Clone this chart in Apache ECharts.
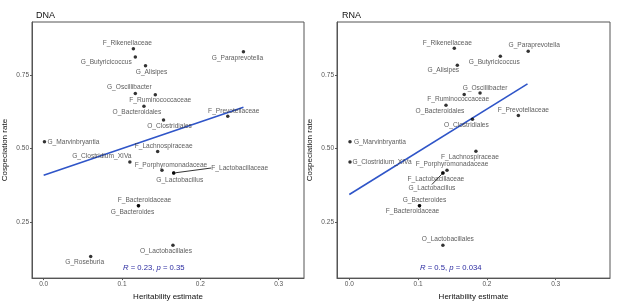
<!DOCTYPE html>
<html>
<head>
<meta charset="utf-8">
<script src="https://cdn.jsdelivr.net/npm/echarts@6/dist/echarts.min.js"></script>
<style>
  html, body { margin: 0; padding: 0; background: #fff; }
  #chart { width: 617px; height: 306px; }
</style>
</head>
<body>
<div id="chart"></div>
<script>
// DNA panel
const dnaNames = ['F_Rikenellaceae', 'G_Butyricicoccus', 'G_Alisipes', 'G_Paraprevotella', 'G_Oscillibacter',
  'F_Ruminococcaceae', 'O_Bacteroidales', 'O_Clostridiales', 'F_Prevotellaceae', 'G_Marvinbryantia',
  'F_Lachnospiraceae', 'G_Clostridium_XIVa', 'F_Porphyromonadaceae', 'F_Lactobacillaceae', 'G_Lactobacillus',
  'F_Bacteroidaceae', 'G_Bacteroides', 'O_Lactobacillales', 'G_Roseburia'];
const dnaHerit = [0.1145, 0.117, 0.130, 0.255, 0.117, 0.1425, 0.128, 0.153, 0.235, 0.001,
  0.1455, 0.110, 0.151, 0.166, 0.166, 0.121, 0.121, 0.165, 0.060];
const dnaCosp = [0.839, 0.811, 0.781, 0.829, 0.687, 0.683, 0.644, 0.597, 0.610, 0.523,
  0.490, 0.454, 0.426, 0.417, 0.417, 0.306, 0.306, 0.172, 0.133];
const dnaFitX = [0, 0.255];
const dnaFitY = [0.409, 0.640];
const dnaStat = '{i|R} = 0.23, {i|p} = 0.35';

// RNA panel
const rnaNames = ['F_Rikenellaceae', 'G_Paraprevotella', 'G_Butyricicoccus', 'G_Alisipes', 'G_Oscillibacter',
  'F_Ruminococcaceae', 'O_Bacteroidales', 'F_Prevotellaceae', 'O_Clostridiales', 'G_Marvinbryantia',
  'F_Lachnospiraceae', 'G_Clostridium_XIVa', 'F_Porphyromonadaceae', 'F_Lactobacillaceae', 'G_Lactobacillus',
  'F_Bacteroidaceae', 'G_Bacteroides', 'O_Lactobacillales'];
const rnaHerit = [0.1526, 0.260, 0.2195, 0.157, 0.190, 0.167, 0.1405, 0.2457, 0.179, 0.001,
  0.184, 0.001, 0.142, 0.136, 0.136, 0.102, 0.102, 0.136];
const rnaCosp = [0.841, 0.831, 0.814, 0.783, 0.689, 0.684, 0.647, 0.612, 0.600, 0.523,
  0.491, 0.454, 0.426, 0.417, 0.417, 0.306, 0.306, 0.172];
const rnaFitX = [0, 0.259];
const rnaFitY = [0.344, 0.720];
const rnaStat = '{i|R} = 0.5, {i|p} = 0.034';

const xTicks = [0, 0.1, 0.2, 0.3];
const yTicks = [0.25, 0.5, 0.75];

// label placement (pixel offsets from the point, like ggrepel put them)
const dnaLabelPos = {
  F_Rikenellaceae: [-6, -6], G_Butyricicoccus: [-29, 5], G_Alisipes: [6, 6], G_Paraprevotella: [-6, 6],
  G_Oscillibacter: [-6, -6], F_Ruminococcaceae: [5, 5], O_Bacteroidales: [-7, 6], O_Clostridiales: [6, 6],
  F_Prevotellaceae: [6, -5], G_Marvinbryantia: [29, 0], F_Lachnospiraceae: [6, -5], G_Clostridium_XIVa: [-28, -6],
  F_Porphyromonadaceae: [9, -5], F_Lactobacillaceae: [66, -5], G_Lactobacillus: [6, 7],
  F_Bacteroidaceae: [6, -6], G_Bacteroides: [-6, 6], O_Lactobacillales: [-7, 6], G_Roseburia: [-6, 6]
};
const rnaLabelPos = {
  F_Rikenellaceae: [-7, -5], G_Paraprevotella: [6, -6], G_Butyricicoccus: [-6, 6], G_Alisipes: [-14, 5],
  G_Oscillibacter: [5, -5], F_Ruminococcaceae: [-6, 5], O_Bacteroidales: [-6, 6], F_Prevotellaceae: [5, -5],
  O_Clostridiales: [-6, 6], G_Marvinbryantia: [30, 0], F_Lachnospiraceae: [-6, 6], G_Clostridium_XIVa: [32, 0],
  F_Porphyromonadaceae: [5, -6], F_Lactobacillaceae: [-7, 6], G_Lactobacillus: [-11, 15],
  F_Bacteroidaceae: [-7, 5], G_Bacteroides: [5, -6], O_Lactobacillales: [5, -6]
};
const dnaLeader = ['F_Lactobacillaceae'];
const rnaLeader = ['G_Lactobacillus'];

const textFont = 'Liberation Sans';
const labelColor = '#333';
const tickColor = '#555';
const fitColor = '#2f55c8';
const statColor = '#2b2ba0';

const chart = echarts.init(document.getElementById('chart'), null, { renderer: 'canvas' });

const makePoints = (names, xs, ys, leaders) => names.map((n, i) => ({
  name: n,
  value: [xs[i], ys[i]],
  labelLine: { show: leaders.includes(n), lineStyle: { color: '#000', width: 0.8 } }
}));

const makeXAxis = (gridIndex, min, max) => ({
  type: 'value',
  gridIndex,
  min, max,
  name: 'Heritability estimate',
  nameLocation: 'middle',
  nameGap: 14,
  nameTextStyle: { fontFamily: textFont, fontSize: 8, color: '#111' },
  splitLine: { show: false },
  axisLine: { show: true, onZero: false, lineStyle: { color: '#555', width: 1 } },
  axisTick: { show: true, length: 2, customValues: xTicks, lineStyle: { color: '#555' } },
  axisLabel: {
    customValues: xTicks, margin: 3, fontFamily: textFont, fontSize: 6.5, color: tickColor,
    formatter: v => v.toFixed(1)
  }
});

const makeYAxis = (gridIndex) => ({
  type: 'value',
  gridIndex,
  min: 0.06, max: 0.93,
  name: 'Cospeciation rate',
  nameLocation: 'middle',
  nameRotate: 90,
  nameGap: 23,
  nameTextStyle: { fontFamily: textFont, fontSize: 8, color: '#111' },
  splitLine: { show: false },
  axisLine: { show: true, onZero: false, lineStyle: { color: '#555', width: 1 } },
  axisTick: { show: true, length: 2, customValues: yTicks, lineStyle: { color: '#555' } },
  axisLabel: {
    customValues: yTicks, margin: 3, fontFamily: textFont, fontSize: 6.5, color: tickColor,
    formatter: v => v.toFixed(2)
  }
});

const makeScatter = (idx, names, xs, ys, leaders, pos) => ({
  type: 'scatter',
  xAxisIndex: idx, yAxisIndex: idx,
  symbolSize: 3.5,
  itemStyle: { color: '#000' },
  data: makePoints(names, xs, ys, leaders),
  label: {
    show: true, position: 'inside', formatter: '{b}',
    fontFamily: textFont, fontSize: 6.6, color: labelColor
  },
  labelLayout: p => {
    const o = pos[names[p.dataIndex]];
    return { dx: o[0], dy: o[1] };
  },
  z: 3
});

const makeFit = (idx, xs, ys) => ({
  type: 'line',
  xAxisIndex: idx, yAxisIndex: idx,
  data: xs.map((x, i) => [x, ys[i]]),
  showSymbol: false,
  lineStyle: { color: fitColor, width: 1.6 },
  z: 2
});

const statText = (text, x) => ({
  type: 'text',
  left: x, top: 264,
  style: {
    text,
    fontFamily: textFont, fontSize: 7.7, fill: statColor,
    rich: { i: { fontStyle: 'italic', fontFamily: textFont, fontSize: 7.7, fill: statColor } }
  }
});

chart.setOption({
  animation: false,
  title: [
    { text: 'DNA', left: 31, top: 6, textStyle: { fontFamily: textFont, fontSize: 9, fontWeight: 'normal', color: '#111' } },
    { text: 'RNA', left: 337, top: 6, textStyle: { fontFamily: textFont, fontSize: 9, fontWeight: 'normal', color: '#111' } }
  ],
  grid: [
    { left: 32, top: 22, width: 272, height: 261, show: true, borderColor: '#555', borderWidth: 1 },
    { left: 337, top: 22, width: 273, height: 261, show: true, borderColor: '#555', borderWidth: 1 }
  ],
  xAxis: [makeXAxis(0, -0.0149, 0.3323), makeXAxis(1, -0.0179, 0.3789)],
  yAxis: [makeYAxis(0), makeYAxis(1)],
  series: [
    makeFit(0, dnaFitX, dnaFitY),
    makeScatter(0, dnaNames, dnaHerit, dnaCosp, dnaLeader, dnaLabelPos),
    makeFit(1, rnaFitX, rnaFitY),
    makeScatter(1, rnaNames, rnaHerit, rnaCosp, rnaLeader, rnaLabelPos)
  ],
  graphic: [statText(dnaStat, 123), statText(rnaStat, 420)]
});
</script>
</body>
</html>
